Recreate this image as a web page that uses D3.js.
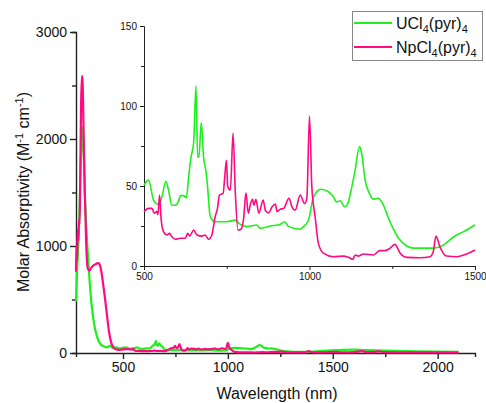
<!DOCTYPE html>
<html>
<head>
<meta charset="utf-8">
<script src="https://cdn.jsdelivr.net/npm/d3@7"></script>
<style>
  body { margin: 0; background: #fff; }
  svg { display: block; font-family: "Liberation Sans", Arial, sans-serif; }
</style>
</head>
<body>
<div id="container"></div>
<script>
/* DATA */
const seriesNames = ["UCl4(pyr)4", "NpCl4(pyr)4"];
const seriesColors = ["#1ef01e", "#ff0a80"];

// [wavelength nm, molar absorptivity]
const uclData = [
  [276, 480], [280, 700], [285, 930], [290, 1150], [295, 1500], [300, 1850], [305, 2080], [308, 2110],
  [312, 1900], [318, 1500], [325, 1180], [330, 1000], [340, 700], [350, 460], [360, 300], [375, 160],
  [390, 90], [410, 60], [425, 52], [438, 70], [450, 48], [470, 52], [485, 42], [500, 50.6],
  [514, 53.7], [529, 41], [544, 38.5], [554, 43], [566, 53], [574, 47.5], [584, 38], [595, 38],
  [605, 41], [610, 44], [620, 44], [628, 42.7], [635, 56], [642, 68], [650, 77], [657, 112.5],
  [662, 68], [666, 68], [673, 89.6], [680, 68], [688, 58], [692, 49.6], [700, 31], [715, 27.7],
  [751, 27.7], [776, 28.7], [791, 26], [811, 24.6], [841, 25.6], [851, 23.5], [881, 25], [911, 26],
  [925, 27.7], [937, 24.6], [972, 23], [982, 24.6], [997, 28.7], [1012, 43], [1034, 48], [1057, 46.4],
  [1072, 43.3], [1082, 40], [1093, 40.8], [1106, 37], [1115, 38.7], [1128, 49.6], [1138, 60], [1151, 74.6],
  [1158, 70], [1168, 53.7], [1181, 45.4], [1193, 41.7], [1208, 42.3], [1221, 39], [1243, 27.7], [1269, 17.3],
  [1294, 12.5], [1314, 11.2], [1374, 11.2], [1404, 13], [1436, 18.3], [1466, 21.5], [1500, 25.6],
  [1550, 30], [1600, 32], [1650, 28], [1700, 25], [1800, 20], [1900, 15], [2000, 12], [2100, 10]
];

const npclData = [
  [276, 760], [278, 1000], [281, 860], [284, 1150], [287, 1050], [290, 1250], [293, 1200], [296, 1600],
  [300, 2300], [304, 2590], [307, 2550], [312, 2100], [318, 1500], [325, 1000], [332, 790], [340, 770],
  [350, 800], [360, 820], [370, 830], [380, 840], [388, 830], [395, 780], [405, 650], [415, 500],
  [425, 330], [435, 180], [445, 90], [455, 50], [465, 35], [480, 30], [500, 34],
  [514, 36], [524, 36], [531, 33], [539, 34], [542, 32], [547, 44.4], [552, 28.7], [559, 21.5],
  [569, 19.4], [577, 20.4], [584, 18.3], [595, 16.7], [610, 17.3], [625, 17.3], [632, 20.4], [638, 18.7],
  [650, 22.5], [660, 19.4], [675, 18.7], [685, 19.4], [695, 16.7], [705, 19.4], [715, 30.8], [722, 36],
  [728, 44.4], [739, 45.4], [744, 55.8], [749, 66], [753, 49.6], [761, 47.5], [769, 83], [776, 45.4],
  [784, 22.5], [793, 23], [801, 29.8], [808, 45.8], [815, 33], [822, 39], [828, 41.7], [832, 38],
  [838, 41.7], [847, 33], [860, 41.2], [867, 34.6], [877, 33.3], [887, 37], [897, 38.7], [902, 34],
  [911, 35.4], [922, 36], [938, 42.3], [947, 37], [957, 35], [972, 44.4], [985, 39], [992, 42.3],
  [1000, 93.7], [1007, 49.6], [1017, 30.8], [1027, 14], [1042, 8], [1072, 5.8], [1103, 6.2], [1118, 5.4],
  [1131, 4.2], [1138, 6.9], [1148, 6.2], [1163, 7.5], [1193, 6.9], [1213, 9.6], [1228, 9.6], [1243, 11],
  [1258, 13.5], [1274, 8], [1294, 5.4], [1334, 5.2], [1364, 5.8], [1374, 9], [1382, 18.7], [1394, 12],
  [1414, 6.2], [1445, 5.8], [1475, 7.5], [1500, 10],
  [1550, 6], [1600, 8], [1640, 18], [1660, 8], [1700, 10], [1720, 16], [1740, 8], [1800, 6],
  [1900, 5], [2000, 5], [2100, 4]
];

const mainXTicks = [500, 1000, 1500, 2000];
const mainXMinor = [750, 1250, 1750];
const mainYTicks = [0, 1000, 2000, 3000];
const mainYMinor = [500, 1500, 2500];
const insetXTicks = [500, 1000, 1500];
const insetXMinor = [750, 1250];
const insetYTicks = [0, 50, 100, 150];
const insetYMinor = [25, 75, 125];

/* CONSTANTS */
const width = 486, height = 403;

const svg = d3.select("#container")
  .append("svg")
  .attr("width", width)
  .attr("height", height);

// SCALES
const xScale = d3.scaleLinear().domain([276, 2178]).range([76, 475]);
const yScale = d3.scaleLinear().domain([0, 3000]).range([353, 32]);
const xInset = d3.scaleLinear().domain([500, 1500]).range([144, 475]);
const yInset = d3.scaleLinear().domain([0, 150]).range([266, 26]);

// AXES
function drawAxis(axisFn, scale, ticks, minor, transform, size, minorSize, fontSize, strokeW) {
  const g = svg.append("g").attr("transform", transform);
  g.call(axisFn(scale).tickValues(minor).tickSize(minorSize).tickFormat(""));
  g.call(g2 => g2.selectAll(".tick line").attr("class", "minor"));
  const gm = svg.append("g").attr("transform", transform)
    .call(axisFn(scale).tickValues(ticks).tickSize(size).tickPadding(3).tickFormat(d3.format("d")));
  [g, gm].forEach(a => {
    a.selectAll("path, line").attr("stroke", "#222").attr("stroke-width", strokeW);
    a.selectAll("text").attr("fill", "#111").style("font-size", fontSize + "px");
  });
  gm.select(".domain").remove();
  return gm;
}

drawAxis(d3.axisBottom, xScale, mainXTicks, mainXMinor, "translate(0,353)", 6, 4, 14, 1.4);
drawAxis(d3.axisLeft, yScale, mainYTicks, mainYMinor, "translate(76,0)", 6, 4, 14, 1.4);
drawAxis(d3.axisBottom, xInset, insetXTicks, insetXMinor, "translate(0,266)", 4, 3, 10, 1);
drawAxis(d3.axisLeft, yInset, insetYTicks, insetYMinor, "translate(144,0)", 4, 3, 10, 1);

// LINES
const lineMain = d3.line().x(d => xScale(d[0])).y(d => yScale(d[1])).curve(d3.curveMonotoneX);
const lineInset = d3.line().x(d => xInset(d[0])).y(d => yInset(d[1])).curve(d3.curveMonotoneX);

const series = [uclData, npclData];
series.forEach((s, i) => {
  svg.append("path")
    .attr("d", lineMain(s))
    .attr("fill", "none")
    .attr("stroke", seriesColors[i])
    .attr("stroke-width", 2.2)
    .attr("stroke-linejoin", "round");
});
series.forEach((s, i) => {
  svg.append("path")
    .attr("d", lineInset(s.filter(d => d[0] >= 500 && d[0] <= 1500)))
    .attr("fill", "none")
    .attr("stroke", seriesColors[i])
    .attr("stroke-width", 1.6)
    .attr("stroke-linejoin", "round");
});

// AXIS TITLES
svg.append("text")
  .attr("x", 277).attr("y", 399)
  .attr("text-anchor", "middle")
  .style("font-size", "16px")
  .attr("fill", "#111")
  .text("Wavelength (nm)");

const yt = svg.append("text")
  .attr("transform", "translate(29,192) rotate(-90)")
  .attr("text-anchor", "middle")
  .style("font-size", "16px")
  .attr("fill", "#111");
yt.append("tspan").text("Molar Absorptivity (M");
yt.append("tspan").attr("dy", -6).style("font-size", "11px").text("-1");
yt.append("tspan").attr("dy", 6).text(" cm");
yt.append("tspan").attr("dy", -6).style("font-size", "11px").text("-1");
yt.append("tspan").attr("dy", 6).text(")");

// LEGEND
const legend = svg.append("g");
legend.append("rect")
  .attr("x", 352.5).attr("y", 11.5).attr("width", 130).attr("height", 49)
  .attr("fill", "#fff").attr("stroke", "#888").attr("stroke-width", 1);

const legendRows = [
  { base: "UCl", mid: "(pyr)" },
  { base: "NpCl", mid: "(pyr)" }
];
legendRows.forEach((r, i) => {
  const cy = 23 + i * 24;
  legend.append("line")
    .attr("x1", 354).attr("x2", 392).attr("y1", cy).attr("y2", cy)
    .attr("stroke", seriesColors[i]).attr("stroke-width", 2.2);
  const t = legend.append("text")
    .attr("x", 396).attr("y", cy + 6)
    .style("font-size", "16px")
    .attr("fill", "#111");
  t.append("tspan").text(r.base);
  t.append("tspan").attr("dy", 4).style("font-size", "11px").text("4");
  t.append("tspan").attr("dy", -4).text(r.mid);
  t.append("tspan").attr("dy", 4).style("font-size", "11px").text("4");
});
</script>
</body>
</html>
